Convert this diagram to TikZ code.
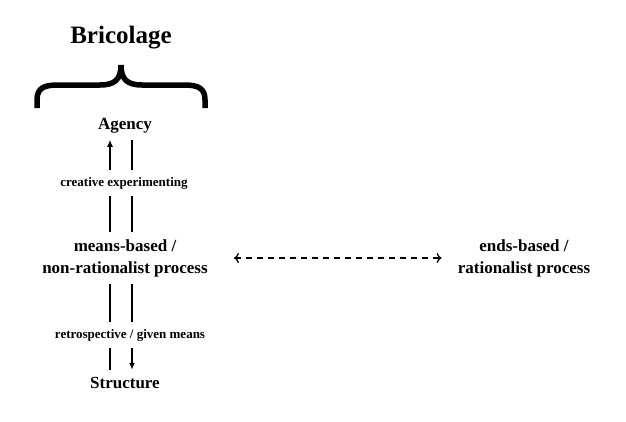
\documentclass[tikz,border=0pt]{standalone}
\usepackage{fontspec}
\setmainfont{Liberation Serif}
\usetikzlibrary{arrows.meta}
\begin{document}
\begin{tikzpicture}[x=1pt,y=-1pt]
\tikzstyle{every node}=[inner sep=0pt, outer ysep=7pt, align=center, font=\bfseries\fontsize{17}{22}\selectfont]
\tikzstyle{small}=[font=\bfseries\fontsize{13}{16}\selectfont]
\tikzstyle{bar}=[line width=1.4pt]
\useasboundingbox (0,0) rectangle (626,421);
\node (bricolage) [anchor=base, font=\bfseries\fontsize{25}{28}\selectfont] at (121,43) {Bricolage};
\node (agency) [anchor=base] at (125,129) {Agency};
\node (creative) [small, anchor=base] at (124,186) {creative experimenting};
\node (means) at (125,258) {means-based /\\non-rationalist process};
\node (retro) [small, anchor=base] at (130,338) {retrospective / given means};
\node (structure) [anchor=base] at (125,388) {Structure};
\node (ends) at (524,258) {ends-based /\\rationalist process};
\coordinate (l) at (110,0);
\coordinate (r) at (132,0);
\draw [line width=5.5pt] (37,108) -- (37,100) .. controls (37,88) and (44,85) .. (58,85) -- (100,85) .. controls (114,85) and (121,80) .. (121,65) .. controls (121,80) and (128,85) .. (142,85) -- (184,85) .. controls (198,85) and (205,88) .. (205,100) -- (205,108);
\draw [bar] (means.north -| l) -- (creative.south -| l);
\draw [bar, -{Latex[length=7pt,width=6pt]}] (creative.north -| l) -- (agency.south -| l);
\draw [bar] (means.north -| r) -- (creative.south -| r);
\draw [bar] (creative.north -| r) -- (agency.south -| r);
\draw [bar] (means.south -| l) -- (retro.north -| l);
\draw [bar] (retro.south -| l) -- (structure.north -| l);
\draw [bar] (means.south -| r) -- (retro.north -| r);
\draw [bar, -{Latex[length=7pt,width=6pt]}] (retro.south -| r) -- (structure.north -| r);
\draw [{To[length=5pt,width=10pt]}-{To[length=5pt,width=10pt]}, line width=1.3pt, dash pattern=on 6pt off 5pt, shorten <=26pt, shorten >=16pt] (means) -- (ends);
\end{tikzpicture}
\end{document}
